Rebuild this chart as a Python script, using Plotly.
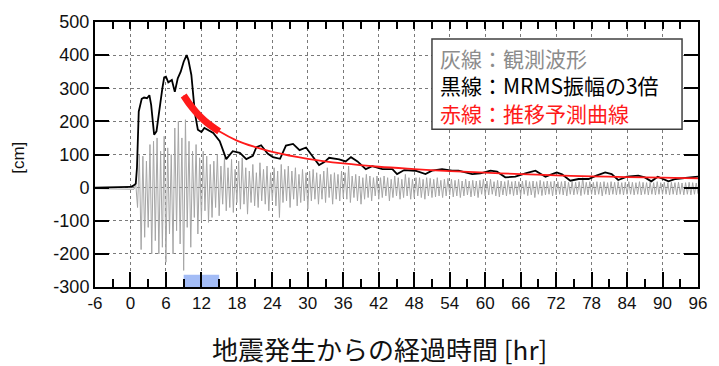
import numpy as np
import plotly.graph_objects as go

# ---------------- data ----------------
x_ticks = [-6, 0, 6, 12, 18, 24, 30, 36, 42, 48, 54, 60, 66, 72, 78, 84, 90, 96]
x_tick_labels = ["-6", "0", "6", "12", "18", "24", "30", "36", "42", "48", "54", "60",
                 "66", "72", "78", "84", "90", "96"]
x_minor = [-3, 3, 9, 15, 21, 27, 33, 39, 45, 51, 57, 63, 69, 75, 81, 87, 93]
y_ticks = [-300, -200, -100, 0, 100, 200, 300, 400, 500]
y_tick_labels = ["-300", "-200", "-100", "0", "100", "200", "300", "400", "500"]

# black: 3x MRMS amplitude
mrms_t = [-6, -1, 0, 0.5, 0.9, 1.1, 1.4, 1.9, 2.3, 2.8, 3.2, 3.5, 3.8, 4.0, 4.4, 5.0, 5.4, 5.7,
          6.0, 6.4, 7.0, 7.5, 8.0, 8.5, 9.0, 9.5, 9.8, 10.3, 10.9, 11.4, 12.0, 12.5, 13.2, 14.0,
          15.1, 16.2, 17.3, 18.5, 19.6, 20.7, 21.3, 22.1, 23.2, 24.1, 25.3, 26.3, 27.5, 28.6,
          29.7, 30.6, 31.9, 32.8, 33.6, 35.3, 36.4, 37.3, 38.4, 39.8, 40.9, 42.6, 44.3, 45.1,
          46.3, 48.2, 49.9, 51.0, 52.7, 54.4, 55.5, 57.8, 59.2, 60.9, 62.0, 63.4, 65.1, 66.8,
          68.5, 70.2, 72.1, 73.0, 74.4, 75.8, 77.5, 78.8, 80.3, 81.4, 82.5, 84.0, 85.9, 87.0,
          88.1, 89.2, 91.0, 92.2, 93.5, 96]
mrms_v = [0, 0, 2, 6, 12, 60, 230, 268, 272, 270, 279, 250, 190, 160, 170, 259, 300, 333,
          335, 318, 325, 289, 330, 350, 380, 400, 385, 340, 225, 175, 168, 180, 172, 165,
          140, 86, 110, 105, 86, 96, 122, 128, 103, 92, 87, 127, 132, 113,
          121, 98, 68, 77, 90, 85, 79, 92, 79, 56, 65, 56, 56, 41,
          53, 51, 41, 51, 56, 51, 51, 41, 43, 51, 48, 31, 33, 43,
          51, 33, 46, 40, 21, 26, 26, 36, 46, 41, 23, 33, 36, 31,
          19, 33, 19, 26, 29, 33]

# red: predicted decay curve
pred_t = [9, 10, 11, 12, 13, 14, 15, 18, 21, 24, 30, 36, 42, 48, 54, 60, 66, 72, 78, 84, 90, 96]
pred_v = [278, 252, 230, 211, 195, 182, 170, 142, 123, 108, 87, 73, 63, 56, 50, 45, 41, 37, 34, 32, 30, 28]
fit_start, fit_end = 9, 15

# gray: observed waveform (pre-event flat part, then extrema every 0.3 hr from 0.6 hr)
pre_t = [-6, 0, 0.3]
pre_v = [-3, -3, -3]
wave_start, wave_step = 0.6, 0.3
wave_v = [
    -5, 10, -60, 100, -187, 95, -150, 80, -120, 130, -200, 140, -160, 150, -200, 110, -180, 155, -225, 120,
    -140, 100, -200, 180, -130, 200, -170, 150, -250, 205, -120, 140, -180, 110, -90, 130, -140, 90, -100, 110,
    -70, 95, -105, 70, -90, 80, -60, 100, -85, 65, -50, 90, -70, 60, -60, 85, -75, 55, -45, 80,
    -65, 90, -50, 60, -80, 50, -45, 70, -55, 45, -60, 75, -40, 55, -50, 65, -70, 45, -40, 60,
    -55, 50, -90, 70, -45, 55, -40, 65, -60, 50, -35, 60, -55, 40, -45, 55, -40, 45, -65, 50,
    -40, 55, -35, 45, -50, 40, -35, 50, -45, 60, -30, 40, -50, 45, -35, 40, -40, 50, -30, 45,
    -35, 65, -45, 35, -30, 40, -40, 35, -50, 30, -35, 40, -30, 35, -40, 30, -25, 35, -35, 30,
    -30, 35, -25, 30, -40, 25, -30, 35, -25, 30, -35, 25, -30, 40, -25, 30, -35, 25, -30, 30,
    -25, 30, -30, 25, -35, 30, -25, 28, -30, 25, -28, 30, -25, 22, -30, 25, -25, 28, -22, 25,
    -28, 22, -25, 25, -30, 20, -25, 25, -22, 20, -28, 22, -25, 20, -30, 22, -20, 25, -25, 20,
    -22, 25, -20, 18, -25, 22, -28, 20, -22, 18, -25, 22, -20, 18, -24, 20, -22, 18, -25, 20,
    -20, 22, -24, 18, -22, 20, -30, 18, -20, 22, -24, 18, -22, 20, -20, 18, -25, 20, -22, 18,
    -20, 18, -22, 20, -25, 16, -20, 18, -22, 16, -20, 18, -24, 30, -20, 16, -22, 18, -20, 16,
    -22, 18, -20, 16, -25, 18, -20, 15, -22, 18, -20, 16, -22, 18, -20, 15, -22, 16, -20, 18,
    -20, 16, -22, 15, -20, 18, -22, 16, -20, 15, -22, 16, -20, 15, -22, 18, -20, 15, -20, 16,
    -20, 15, -22, 16, -20, 15, -22, 16, -20, 14, -22, 15, -20, 16, -22, 15, -20, 14, -18, 15,
]
wave_t = [wave_start + wave_step * i for i in range(len(wave_v))]
gray_t = pre_t + wave_t
gray_v = pre_v + wave_v

legend_lines = ["灰線：観測波形", "黒線：MRMS振幅の3倍", "赤線：推移予測曲線"]
legend_colors = ["#8c8c8c", "#000000", "#ff1a1a"]
x_title = "地震発生からの経過時間 [hr]"
y_title = "[cm]"

# ---------------- figure ----------------
fig = go.Figure()
fig.add_trace(go.Scatter(x=gray_t, y=gray_v, mode="lines",
                         line=dict(color="#a6a6a6", width=1), showlegend=False))
fig.add_trace(go.Scatter(x=mrms_t, y=mrms_v, mode="lines",
                         line=dict(color="#000000", width=1.8), showlegend=False))
fig.add_trace(go.Scatter(x=pred_t, y=pred_v, mode="lines", line_shape="spline",
                         line=dict(color="#ff1a1a", width=1.8), showlegend=False))
fit_t = [t for t in pred_t if fit_start <= t <= fit_end]
fit_v = [v for t, v in zip(pred_t, pred_v) if fit_start <= t <= fit_end]
fig.add_trace(go.Scatter(x=fit_t, y=fit_v, mode="lines", line_shape="spline",
                         line=dict(color="#ff1a1a", width=7), showlegend=False))
# invisible trace to anchor the top tick axis
fig.add_trace(go.Scatter(x=[x_ticks[0], x_ticks[-1]], y=[0, 0], xaxis="x2", mode="lines",
                         line=dict(width=0), hoverinfo="skip", showlegend=False))

num_font = dict(family="Liberation Sans, Arial, sans-serif", size=17, color="#111")
cjk = "Noto Sans CJK JP, sans-serif"

fig.update_layout(
    width=719, height=366,
    margin=dict(l=95, r=19, t=17, b=79),
    paper_bgcolor="white", plot_bgcolor="white",
    xaxis=dict(range=[x_ticks[0], x_ticks[-1]], tickvals=x_ticks, ticktext=x_tick_labels,
               ticks="inside", ticklen=15, tickwidth=1.5, tickcolor="black",
               minor=dict(tickvals=x_minor, ticks="inside", ticklen=8, tickwidth=1.5,
                          tickcolor="black", showgrid=False),
               showgrid=True, griddash="dot", gridcolor="#7a7a7a", gridwidth=1,
               showline=True, linecolor="black", linewidth=2, mirror=True,
               zeroline=False, tickfont=num_font),
    xaxis2=dict(range=[x_ticks[0], x_ticks[-1]], overlaying="x", side="top", anchor="y",
                tickvals=sorted(x_ticks + x_minor), ticks="inside", ticklen=7, tickwidth=1.5,
                tickcolor="black", showticklabels=False, showgrid=False, zeroline=False),
    yaxis=dict(range=[y_ticks[0], y_ticks[-1]], tickvals=y_ticks, ticktext=y_tick_labels,
               ticks="inside", ticklen=14, tickwidth=1.5, tickcolor="black",
               showgrid=True, griddash="dot", gridcolor="#7a7a7a", gridwidth=1,
               showline=True, linecolor="black", linewidth=2, mirror="ticks",
               zeroline=False, tickfont=dict(family="Liberation Sans, Arial, sans-serif",
                                             size=18, color="#111")),
)

# fitting window marker
fig.add_shape(type="rect", xref="x", yref="y", x0=fit_start, x1=fit_end, y0=-300, y1=-263,
              fillcolor="#a3bcf6", line=dict(width=0), layer="below")

# legend box
fig.add_shape(type="rect", xref="x", yref="y", x0=51.0, x1=93.3, y0=176, y1=449,
              fillcolor="white", line=dict(color="#404040", width=1.5), layer="above")
legend_text = "<br>".join(f"<span style='color:{c}'>{t}</span>"
                          for t, c in zip(legend_lines, legend_colors))
fig.add_annotation(x=52.0, y=309, xref="x", yref="y", text=legend_text,
                   showarrow=False, xanchor="left", yanchor="middle", align="left",
                   font=dict(family=cjk, size=21, color="#000"))

fig.add_annotation(x=0.471, y=-0.233, xref="paper", yref="paper", text=x_title,
                   showarrow=False, xanchor="center", yanchor="middle",
                   font=dict(family=cjk, size=26, color="#111"))
fig.add_annotation(x=-0.127, y=0.489, xref="paper", yref="paper", text=y_title,
                   textangle=-90, showarrow=False, xanchor="center", yanchor="middle",
                   font=dict(family="Liberation Sans, Arial, sans-serif", size=17, color="#111"))

fig.write_html("out.html", config={"displayModeBar": False},
               post_script="document.body.style.margin='0';")
